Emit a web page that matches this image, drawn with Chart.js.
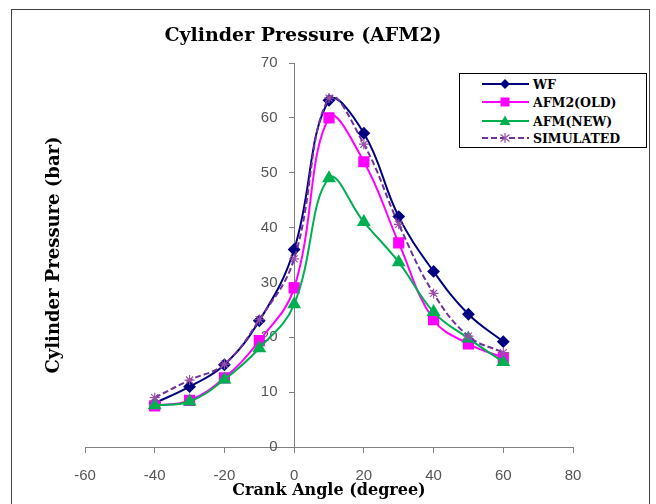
<!DOCTYPE html>
<html>
<head>
<meta charset="utf-8">
<script src="https://cdn.jsdelivr.net/npm/chart.js@4/dist/chart.umd.min.js"></script>
<style>
  body { margin: 0; background: #fff; }
  #wrap { position: relative; width: 656px; height: 504px; overflow: hidden; }
  #frame { position: absolute; left: 11px; top: 9px; width: 637px; height: 600px; border: 1px solid #404040; pointer-events: none; }
  #legend { position: absolute; left: 459px; top: 73px; width: 186px; height: 73px; border: 1px solid #000; background: #fff;
            font: bold 12.5px "DejaVu Serif", serif; color: #000; }
  #legend .row { position: absolute; left: 22px; height: 18px; display: flex; align-items: center; }
  #legend svg { margin-right: 4px; }
</style>
</head>
<body>
<div id="wrap">
  <canvas id="pressureChart" width="656" height="504"></canvas>
  <div id="frame"></div>
  <div id="legend"></div>
</div>
<script>
const angles = [-40, -30, -20, -10, 0, 10, 20, 30, 40, 50, 60];
const wf = [8, 11, 15, 23, 36, 63.2, 57.2, 42, 32, 24.2, 19.2];
const afm2Old = [7.5, 8.5, 12.6, 19.4, 29, 60, 52, 37.2, 23.2, 18.8, 16.3];
const afmNew = [7.6, 8.3, 12.3, 18, 26, 49, 41, 33.7, 24.6, 19.8, 15.5];
const simulated = [9, 12.2, 15.1, 23.2, 34.3, 63.6, 55.2, 40.6, 28, 20.2, 17.2];

const seriesNames = ["WF", "AFM2(OLD)", "AFM(NEW)", "SIMULATED"];
const xTicks = { min: -60, max: 80, step: 20 };
const yTicks = { min: 0, max: 70, step: 10 };

const toXY = vals => vals.map((v, i) => ({ x: angles[i], y: v }));

const tickFont = { family: "Liberation Sans", size: 15 };
const titleFont = { family: "DejaVu Serif", weight: "bold", size: 16 };

// chart title drawn on top of the plot
const chartTitle = {
  id: "chartTitle",
  afterDraw(chart) {
    const c = chart.ctx;
    c.save();
    c.font = 'bold 19px "DejaVu Serif"';
    c.fillStyle = "#000";
    c.textAlign = "center";
    c.fillText("Cylinder Pressure (AFM2)", 303, 41);
    c.restore();
  }
};

const ctx = document.getElementById("pressureChart");
const chart = new Chart(ctx, {
  type: "line",
  data: {
    datasets: [
      { label: seriesNames[0], data: toXY(wf), borderColor: "#000080", backgroundColor: "#000080",
        borderWidth: 2, pointStyle: "rectRot", pointRadius: 5, order: 3 },
      { label: seriesNames[1], data: toXY(afm2Old), borderColor: "#FF00FF", backgroundColor: "#FF00FF",
        borderWidth: 2, pointStyle: "rect", pointRadius: 6.5, order: 2 },
      { label: seriesNames[2], data: toXY(afmNew), borderColor: "#00B050", backgroundColor: "#00B050",
        borderWidth: 2, pointStyle: "triangle", pointRadius: 6, order: 1 },
      { label: seriesNames[3], data: toXY(simulated), borderColor: "#7030A0", backgroundColor: "#7030A0",
        borderWidth: 2, borderDash: [6, 3], pointStyle: "star", pointRadius: 5,
        pointBorderColor: "#9B4FA8", pointBorderWidth: 1.2, order: 0 }
    ]
  },
  options: {
    responsive: false,
    animation: false,
    devicePixelRatio: 1,
    elements: { line: { tension: 0.4, fill: false } },
    layout: { padding: { top: 63, right: 83, bottom: 0, left: 41 } },
    plugins: { legend: { display: false }, tooltip: { enabled: false }, title: { display: false } },
    scales: {
      x: {
        type: "linear", min: xTicks.min, max: xTicks.max,
        ticks: { stepSize: xTicks.step, color: "#555", font: tickFont, padding: 14 },
        grid: { drawOnChartArea: false, color: "#808080", tickLength: 6 },
        border: { color: "#808080" },
        title: { display: true, text: "Crank Angle (degree)", color: "#000", font: titleFont, padding: { top: 0, bottom: 4 } },
        afterFit(s) { s.height = 57; }
      },
      y: {
        type: "linear", min: yTicks.min, max: yTicks.max, position: { x: 0 },
        // labels sit right on the axis when it is placed at x=0, so pad them with spaces
        ticks: { stepSize: yTicks.step, color: "#555", font: tickFont, callback: v => v + "    " },
        grid: { drawOnChartArea: false, color: "#808080", tickLength: 5 },
        border: { color: "#808080" }
      },
      yTitle: {
        type: "linear", position: "left", min: yTicks.min, max: yTicks.max,
        ticks: { display: false }, grid: { display: false }, border: { display: false },
        title: { display: true, text: "Cylinder Pressure (bar)", color: "#000",
                 font: { family: "DejaVu Serif", weight: "bold", size: 18 }, padding: { top: 3, bottom: 0 } },
        afterFit(s) { s.width = 44; }
      }
    }
  },
  plugins: [chartTitle]
});

// legend box, built from the datasets
const markers = {
  rectRot: c => `<polygon points="23,1 28,6 23,11 18,6" fill="${c}"/>`,
  rect: c => `<rect x="18.5" y="1.5" width="9" height="9" fill="${c}"/>`,
  triangle: c => `<polygon points="23,0.5 28.5,10 17.5,10" fill="${c}"/>`,
  star: c => `<path d="M23,1 V11 M18.5,2.5 L27.5,9.5 M27.5,2.5 L18.5,9.5" stroke="${c}" stroke-width="1.2"/>`
};
const legend = document.getElementById("legend");
const rowTops = [1, 19, 38, 55];
chart.data.datasets.forEach((ds, i) => {
  const dash = ds.borderDash ? `stroke-dasharray="${ds.borderDash.join(",")}"` : "";
  const mc = ds.pointBorderColor || ds.borderColor;
  const row = document.createElement("div");
  row.className = "row";
  row.style.top = rowTops[i] + "px";
  row.innerHTML = `<svg width="47" height="12"><line x1="0" y1="6" x2="47" y2="6" stroke="${ds.borderColor}" stroke-width="2" ${dash}/>${markers[ds.pointStyle](mc)}</svg><span>${ds.label}</span>`;
  legend.appendChild(row);
});
</script>
</body>
</html>
